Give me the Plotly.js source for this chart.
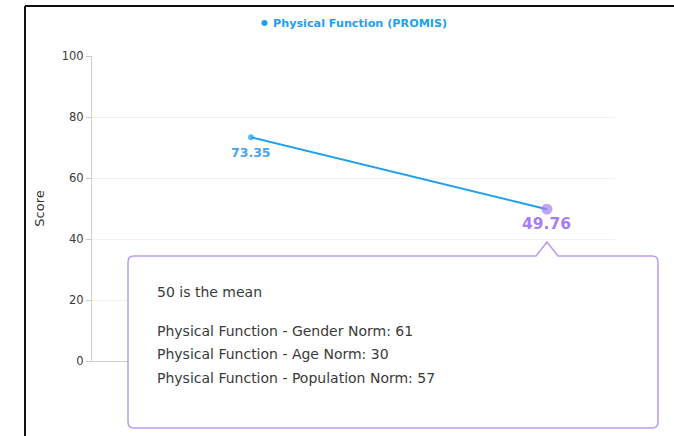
<!DOCTYPE html>
<html>
<head>
<meta charset="utf-8">
<script src="https://cdn.plot.ly/plotly-3.0.1.min.js"></script>
<style>
html,body{margin:0;padding:0;background:#fff;}
#chart{width:674px;height:436px;}
</style>
</head>
<body>
<div id="chart"></div>
<script>
// ---- data ----
const seriesName = "Physical Function (PROMIS)";
const visits = [0, 1];
const scores = [73.35, 49.76];
const scoreLabels = ["73.35", "49.76"];
const meanNote = "50 is the mean";
const normNames = ["Gender", "Age", "Population"];
const normValues = [61, 30, 57];
const yTicks = [0, 20, 40, 60, 80, 100];

// ---- geometry helpers (layout only) ----
const W = 674, H = 436;
const M = {l: 92, r: 59, t: 56, b: 75};
const PW = W - M.l - M.r, PH = H - M.t - M.b;
const px = v => (v - M.l) / PW;          // pixel x -> paper
const py = v => (H - M.b - v) / PH;      // pixel y -> paper

const FONT = "DejaVu Sans, Verdana, sans-serif";
const BLUE = "#1ea0f0";
const PURPLE = "#a57ff0";

const trace = {
  x: visits,
  y: scores,
  mode: "lines+markers",
  line: {color: BLUE, width: 2},
  marker: {size: [6, 11], color: [BLUE, PURPLE], line: {width: 0}},
  showlegend: false,
  hoverinfo: "skip",
  cliponaxis: false
};

const annotations = [];
// value labels below points
const labelSizes = [12.5, 15.5];
const labelColors = ["#4aa3f0", PURPLE];
visits.forEach((v, i) => {
  annotations.push({
    xref: "x", yref: "y", x: v, y: scores[i],
    text: "<b>" + scoreLabels[i] + "</b>", showarrow: false,
    xanchor: "center", yanchor: "middle", yshift: -15,
    font: {family: FONT, size: labelSizes[i], color: labelColors[i]}
  });
});
// legend-like header
annotations.push({
  xref: "paper", yref: "paper", x: px(264), y: py(22.5),
  text: "●", showarrow: false, xanchor: "center", yanchor: "middle",
  font: {family: FONT, size: 8, color: BLUE}
});
annotations.push({
  xref: "paper", yref: "paper", x: px(271), y: py(23),
  text: "<b>" + seriesName + "</b>", showarrow: false, xanchor: "left", yanchor: "middle",
  font: {family: FONT, size: 11.2, color: BLUE}
});
// tooltip text
annotations.push({
  xref: "paper", yref: "paper", x: px(155), y: py(292),
  text: meanNote, showarrow: false, xanchor: "left", yanchor: "middle",
  font: {family: FONT, size: 14, color: "#3a3a3a"}
});
normNames.forEach((n, i) => {
  annotations.push({
    xref: "paper", yref: "paper", x: px(155), y: py(330.5 + i * 23.5),
    text: "Physical Function - " + n + " Norm: " + normValues[i],
    showarrow: false, xanchor: "left", yanchor: "middle",
    font: {family: FONT, size: 14, color: "#3a3a3a"}
  });
});

// tooltip box with pointer (pixel coords -> paper)
function tooltipPath() {
  const L = 128, R = 658, T = 256, B = 428, r = 6;
  const aL = 536, aX = 547, aR = 558, aY = 242;
  const P = (x, y) => px(x) + "," + py(y);
  return "M" + P(L + r, T) +
    " L" + P(aL, T) + " L" + P(aX, aY) + " L" + P(aR, T) +
    " L" + P(R - r, T) + " Q" + P(R, T) + " " + P(R, T + r) +
    " L" + P(R, B - r) + " Q" + P(R, B) + " " + P(R - r, B) +
    " L" + P(L + r, B) + " Q" + P(L, B) + " " + P(L, B - r) +
    " L" + P(L, T + r) + " Q" + P(L, T) + " " + P(L + r, T) + " Z";
}

const layout = {
  width: W, height: H,
  margin: M,
  paper_bgcolor: "#fff", plot_bgcolor: "#fff",
  font: {family: FONT, color: "#444"},
  showlegend: false,
  xaxis: {
    range: [-0.537, 1.23],
    showgrid: false, zeroline: false,
    showticklabels: false, ticks: "",
    showline: true, linecolor: "#d0d0d0", linewidth: 1,
    fixedrange: true
  },
  yaxis: {
    range: [0, 100],
    tickvals: yTicks,
    ticktext: yTicks.map(String),
    ticks: "outside", ticklen: 5, tickcolor: "#c8c8c8",
    tickfont: {family: FONT, size: 11.5, color: "#3a3a3a"},
    showgrid: true, gridcolor: "#f1f1f1", gridwidth: 1,
    zeroline: false,
    showline: true, linecolor: "#d0d0d0", linewidth: 1,
    title: {text: "Score", font: {family: FONT, size: 13, color: "#333"}, standoff: 14},
    fixedrange: true
  },
  shapes: [
    // outer frame (left and top edges)
    {type: "line", xref: "paper", yref: "paper", x0: px(25), x1: px(25), y0: py(6), y1: py(440),
     line: {color: "#111", width: 2}},
    {type: "line", xref: "paper", yref: "paper", x0: px(25), x1: px(680), y0: py(6), y1: py(6),
     line: {color: "#111", width: 2}},
    // tooltip
    {type: "path", xref: "paper", yref: "paper", path: tooltipPath(),
     fillcolor: "#fff", line: {color: "#b99cf2", width: 1.5}, layer: "above"}
  ],
  annotations: annotations
};

Plotly.newPlot("chart", [trace], layout, {displayModeBar: false, staticPlot: true});
</script>
</body>
</html>
